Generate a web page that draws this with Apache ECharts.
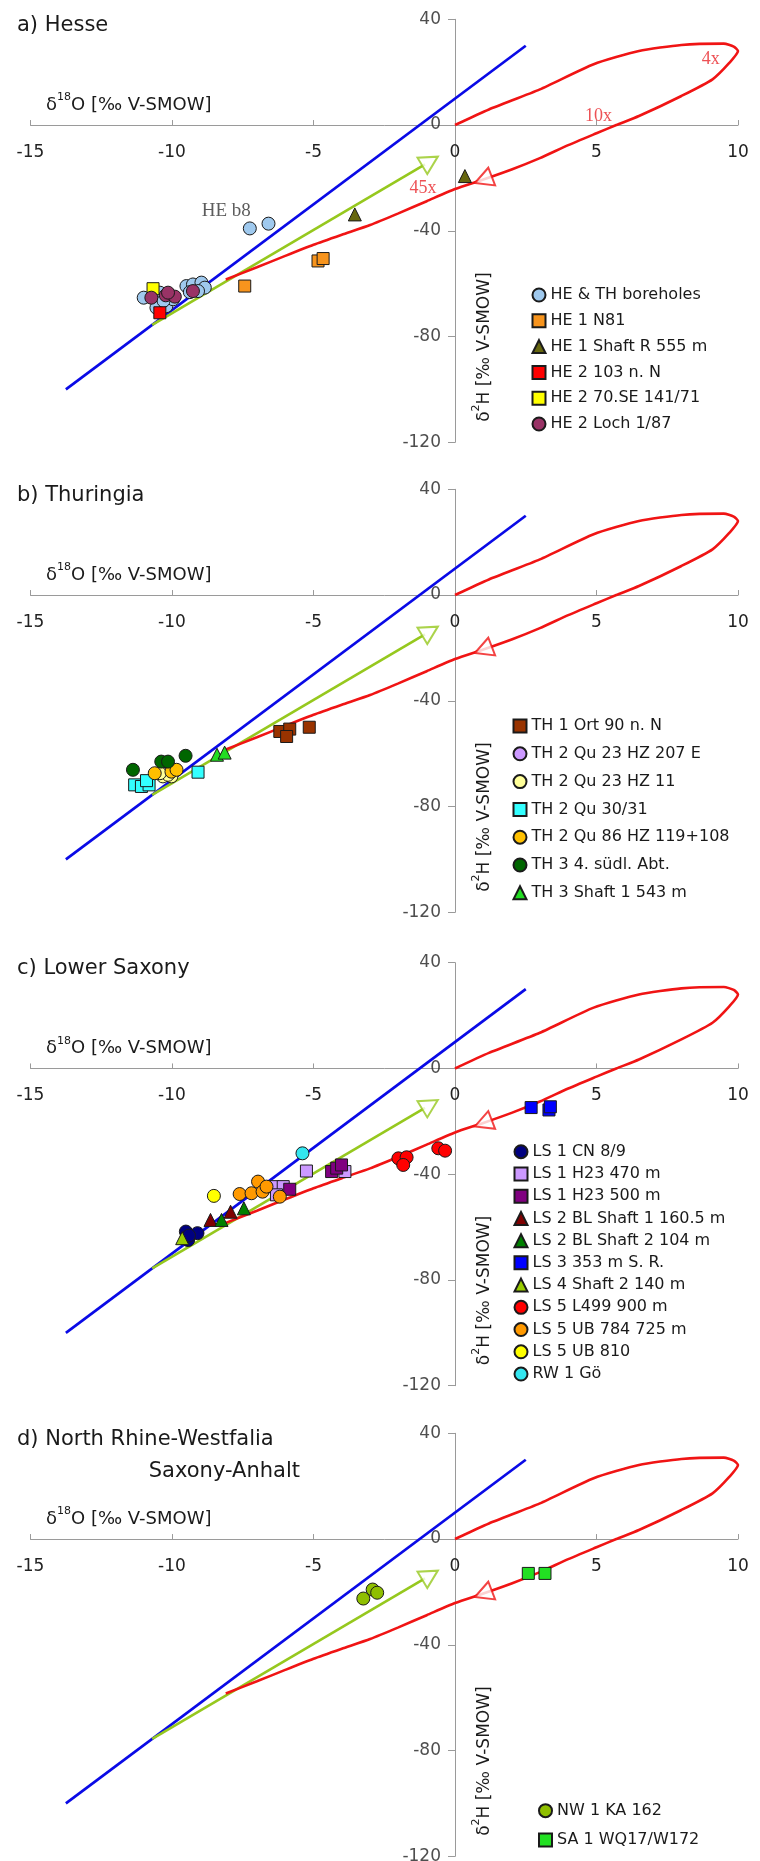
<!DOCTYPE html>
<html>
<head>
<meta charset="utf-8">
<script src="https://cdn.jsdelivr.net/npm/echarts@6/dist/echarts.min.js"></script>
<style>
html,body{margin:0;padding:0;background:#fff;}
#chart{width:760px;height:1861px;}
</style>
</head>
<body>
<div id="chart"></div>
<script>
// ---- axis scales ----
const xMin = -15, xMax = 10, xStep = 5;
const yMin = -120, yMax = 40, yStep = 40;
const yTickValues = [-120, -80, -40, 0, 40];

// ---- reference lines (same in every panel) ----
const gmwl = [[-13.75, -100], [2.5, 30]];
const mixingLine = [[-10.7, -75.6], [-1.06, -14.9]];
const evaporationCurve = [
  [0, 0], [1.2, 5.9], [3.0, 13.5], [4.9, 23.0], [6.5, 28.0], [8.0, 30.3],
  [9.5, 30.8], [9.85, 29.7], [10.0, 28.0], [9.7, 23.6], [9.1, 17.3], [8.0, 11.0],
  [6.5, 3.4], [5.7, 0], [5.0, -3.1], [4.0, -7.6], [3.0, -12.5], [2.0, -16.8],
  [1.0, -20.6], [0, -24.2], [-1, -28.8], [-2, -33.4], [-3, -37.8], [-4, -41.5],
  [-5, -45.3], [-6, -49.5], [-7, -53.8], [-8.1, -58.4]
];
const mixingArrow = [[-0.88, -13.7]];
const evaporationArrow = [[1.0, -20.7]];

// ---- panel a: Hesse ----
const heThBoreholes = [[-7.25, -39.1], [-6.59, -37.3], [-11.0, -65.3], [-10.55, -69.1], [-10.2, -68.5],
  [-9.96, -65.9], [-10.43, -63.4], [-10.3, -66.5], [-9.49, -60.9], [-9.26, -60.3], [-8.96, -59.6],
  [-8.84, -61.5], [-9.37, -63.2], [-9.08, -62.8]];
const heN81 = [[-7.43, -60.9], [-4.84, -51.4], [-4.66, -50.5]];
const heShaftR = [[-3.54, -33.8], [0.35, -19.3]];
const he103 = [[-10.43, -71.0]];
const he70SE = [[-10.67, -61.9]];
const heLoch = [[-10.73, -65.3], [-10.22, -64.4], [-9.9, -64.9], [-10.14, -63.4], [-9.26, -62.8]];

// ---- panel b: Thuringia ----
const th1Ort = [[-6.19, -51.6], [-5.84, -50.7], [-5.95, -53.5], [-5.15, -50.0]];
const th2Qu23HZ207 = [[-10.2, -67.6]];
const th2Qu23HZ11 = [[-10.32, -68.6], [-10.02, -68.6], [-10.14, -68.0], [-10.43, -67.4]];
const th2Qu3031 = [[-9.08, -67.0], [-11.32, -71.8], [-11.08, -72.4], [-10.81, -71.8], [-10.9, -70.2]];
const th2Qu86 = [[-10.61, -67.4], [-10.02, -66.8], [-9.84, -66.1]];
const th3Sued = [[-11.38, -66.1], [-10.38, -63.0], [-10.14, -63.0], [-9.52, -60.8]];
const th3Shaft = [[-8.41, -60.4], [-8.14, -59.6]];

// ---- panel c: Lower Saxony ----
const ls1CN = [[-9.51, -61.7], [-9.1, -62.3], [-9.43, -64.9], [-9.4, -63.2]];
const ls1H470 = [[-5.25, -38.8], [-6.43, -44.7], [-6.07, -44.7], [-6.31, -47.8], [-3.89, -39.0]];
const ls1H500 = [[-5.84, -45.7], [-4.36, -39.0], [-4.18, -37.7], [-4.01, -36.5]];
const ls2Shaft1 = [[-8.64, -57.3], [-7.93, -54.2]];
const ls2Shaft2 = [[-8.25, -57.3], [-7.46, -52.9]];
const ls3 = [[2.69, -14.8], [3.32, -15.7], [3.37, -14.5]];
const ls4 = [[-9.64, -64.2]];
const ls5L499 = [[-2.0, -34.0], [-1.71, -33.6], [-1.83, -36.5], [-0.59, -30.2], [-0.35, -31.1]];
const ls5UB784 = [[-6.96, -42.8], [-7.61, -47.5], [-7.19, -47.2], [-6.8, -46.6], [-6.19, -48.5], [-6.66, -44.7]];
const ls5UB810 = [[-8.52, -48.2]];
const rw1 = [[-5.39, -32.1]];

// ---- panel d: North Rhine-Westfalia / Saxony-Anhalt ----
const nw1 = [[-3.24, -22.5], [-2.91, -19.1], [-2.75, -20.3]];
const sa1 = [[2.59, -13.0], [3.18, -13.0]];

// ---- annotations in panel a ----
const curveLabels = [
  { text: '4x', at: [9.04, 24.8] },
  { text: '10x', at: [5.07, 3.2] },
  { text: '45x', at: [-1.13, -24.1] }
];
const sampleLabels = [{ text: 'HE b8', at: [-8.08, -32.5] }];

const FONT = "'DejaVu Sans', 'Liberation Sans', sans-serif";
const SERIF = "'Liberation Serif', 'DejaVu Serif', serif";

const panels = [
  {
    title: ['a) Hesse'], top: 19.3,
    legend: { left: 531.5, top: 282.1, pitch: 25.8 },
    groups: [
      { name: 'HE & TH boreholes', symbol: 'circle', color: '#9fc9ee', data: heThBoreholes },
      { name: 'HE 1 N81', symbol: 'rect', color: '#f7941d', data: heN81 },
      { name: 'HE 1 Shaft R 555 m', symbol: 'triangle', color: '#66660f', data: heShaftR },
      { name: 'HE 2 103 n. N', symbol: 'rect', color: '#ff0000', data: he103 },
      { name: 'HE 2 70.SE 141/71', symbol: 'rect', color: '#ffff00', data: he70SE },
      { name: 'HE 2 Loch 1/87', symbol: 'circle', color: '#993366', data: heLoch }
    ]
  },
  {
    title: ['b) Thuringia'], top: 489.3,
    legend: { left: 512.5, top: 712.1, pitch: 27.8 },
    groups: [
      { name: 'TH 1 Ort 90 n. N', symbol: 'rect', color: '#993300', data: th1Ort },
      { name: 'TH 2 Qu 23 HZ 207 E', symbol: 'circle', color: '#cc99ff', data: th2Qu23HZ207 },
      { name: 'TH 2 Qu 23 HZ 11', symbol: 'circle', color: '#ffff99', data: th2Qu23HZ11 },
      { name: 'TH 2 Qu 30/31', symbol: 'rect', color: '#33ffff', data: th2Qu3031 },
      { name: 'TH 2 Qu 86 HZ 119+108', symbol: 'circle', color: '#ffc000', data: th2Qu86 },
      { name: 'TH 3 4. südl. Abt.', symbol: 'circle', color: '#006600', data: th3Sued },
      { name: 'TH 3 Shaft 1 543 m', symbol: 'triangle', color: '#22dd22', data: th3Shaft }
    ]
  },
  {
    title: ['c) Lower Saxony'], top: 962.7,
    legend: { left: 513.5, top: 1140.6, pitch: 22.23 },
    groups: [
      { name: 'LS 1 CN 8/9', symbol: 'circle', color: '#000080', data: ls1CN },
      { name: 'LS 1 H23 470 m', symbol: 'rect', color: '#cc99ff', data: ls1H470 },
      { name: 'LS 1 H23 500 m', symbol: 'rect', color: '#800080', data: ls1H500 },
      { name: 'LS 2 BL Shaft 1 160.5 m', symbol: 'triangle', color: '#800000', data: ls2Shaft1 },
      { name: 'LS 2 BL Shaft 2 104 m', symbol: 'triangle', color: '#008000', data: ls2Shaft2 },
      { name: 'LS 3 353 m S. R.', symbol: 'rect', color: '#0000ff', data: ls3 },
      { name: 'LS 4 Shaft 2 140 m', symbol: 'triangle', color: '#99cc00', data: ls4 },
      { name: 'LS 5 L499 900 m', symbol: 'circle', color: '#ff0000', data: ls5L499 },
      { name: 'LS 5 UB 784 725 m', symbol: 'circle', color: '#ff9900', data: ls5UB784 },
      { name: 'LS 5 UB 810', symbol: 'circle', color: '#ffff00', data: ls5UB810 },
      { name: 'RW 1 Gö', symbol: 'circle', color: '#33e6f0', data: rw1 }
    ]
  },
  {
    title: ['d) North Rhine-Westfalia', 'Saxony-Anhalt'], top: 1433.3,
    legend: { left: 538, top: 1796, pitch: 29.3 },
    groups: [
      { name: 'NW 1 KA 162', symbol: 'circle', color: '#8fbf00', data: nw1 },
      { name: 'SA 1 WQ17/W172', symbol: 'rect', color: '#22e022', data: sa1 }
    ]
  }
];

const GRID_LEFT = 30.5, GRID_W = 707.5, GRID_H = 423;
const X_PX = GRID_W / (xMax - xMin);
const Y_PX = GRID_H / (yMax - yMin);

const grids = [], xAxes = [], yAxes = [], legends = [], series = [], graphics = [];

panels.forEach((p, i) => {
  grids.push({ left: GRID_LEFT, top: p.top, width: GRID_W, height: GRID_H, containLabel: false });
  // axes cross at the origin: shift each one from the grid edge onto the zero line
  xAxes.push({
    gridIndex: i, type: 'value', min: xMin, max: xMax, interval: xStep,
    position: 'bottom', offset: -(0 - yMin) * Y_PX,
    axisLine: { onZero: false, lineStyle: { color: '#9a9a9a', width: 1 } },
    axisTick: { show: true, inside: true, length: 5, lineStyle: { color: '#9a9a9a' } },
    axisLabel: { margin: 19, fontSize: 17, color: '#222', fontFamily: FONT },
    splitLine: { show: false }
  });
  yAxes.push({
    gridIndex: i, type: 'value', min: yMin, max: yMax, interval: yStep,
    position: 'left', offset: -(0 - xMin) * X_PX,
    axisLine: { onZero: false, lineStyle: { color: '#9a9a9a', width: 1 } },
    axisTick: { show: true, inside: false, length: 7, lineStyle: { color: '#9a9a9a' } },
    axisLabel: { show: false },
    splitLine: { show: false }
  });

  const ax = { xAxisIndex: i, yAxisIndex: i };

  // y tick labels, placed left of the vertical axis at x = 0
  series.push({ type: 'scatter', ...ax, symbolSize: 0, silent: true, z: 1,
    data: yTickValues.map(v => [0, v]),
    label: { show: true, position: 'left', distance: 14, formatter: d => String(d.value[1]),
      fontSize: 17, color: '#222', fontFamily: FONT } });

  series.push({ type: 'line', ...ax, data: gmwl, symbol: 'none', silent: true,
    lineStyle: { color: '#0a0ae6', width: 2.7 }, z: 2 });
  series.push({ type: 'line', ...ax, data: mixingLine, symbol: 'none', silent: true,
    lineStyle: { color: '#96c81e', width: 2.6 }, z: 2 });
  series.push({ type: 'line', ...ax, data: evaporationCurve, symbol: 'none', smooth: 0.2, silent: true,
    lineStyle: { color: '#f01414', width: 2.6 }, z: 2 });
  series.push({ type: 'scatter', ...ax, data: mixingArrow, symbol: 'triangle', symbolSize: [19, 18],
    symbolRotate: -59, silent: true, z: 3,
    itemStyle: { color: '#fff', borderColor: '#96c81e', borderWidth: 2 } });
  series.push({ type: 'scatter', ...ax, data: evaporationArrow, symbol: 'triangle', symbolSize: [19, 18],
    symbolRotate: 111, silent: true, z: 3,
    itemStyle: { color: '#fff', borderColor: '#f01414', borderWidth: 2 } });

  p.groups.forEach(g => {
    series.push({
      type: 'scatter', name: g.name, ...ax, data: g.data, symbol: g.symbol,
      symbolSize: g.symbol === 'rect' ? 12 : 13,
      itemStyle: { color: g.color, borderColor: '#1a1a1a', borderWidth: 1, opacity: 1 },
      z: 4
    });
  });

  if (i === 0) {
    series.push({ type: 'scatter', ...ax, symbolSize: 0, silent: true, z: 5,
      data: curveLabels.map(c => ({ value: c.at, label: { formatter: c.text } })),
      label: { show: true, position: 'inside', fontFamily: SERIF, fontSize: 18, color: '#e8262a' } });
    series.push({ type: 'scatter', ...ax, symbolSize: 0, silent: true, z: 5,
      data: sampleLabels.map(c => ({ value: c.at, label: { formatter: c.text } })),
      label: { show: true, position: 'inside', fontFamily: SERIF, fontSize: 19, color: '#333' } });
  }

  legends.push({
    data: p.groups.map(g => g.name), orient: 'vertical', left: p.legend.left, top: p.legend.top,
    padding: 0, itemGap: 0, itemWidth: 13, itemHeight: 13, selectedMode: false,
    textStyle: { fontSize: 16, lineHeight: p.legend.pitch, color: '#1a1a1a', fontFamily: FONT }
  });

  // panel title
  graphics.push({ type: 'text', x: 17, y: p.top + 6,
    style: { text: p.title[0], font: '21px ' + FONT, fill: '#1a1a1a', verticalAlign: 'middle' } });
  if (p.title[1]) {
    graphics.push({ type: 'text', x: 300, y: p.top + 38.5,
      style: { text: p.title[1], font: '21px ' + FONT, fill: '#1a1a1a', align: 'right', verticalAlign: 'middle' } });
  }

  const zeroY = p.top + yMax * Y_PX;
  // x-axis name
  graphics.push({ type: 'text', x: 46, y: zeroY - 22,
    style: {
      text: '{n|δ}{s|18}{n|O [‰ V-SMOW]}', verticalAlign: 'middle',
      rich: {
        n: { font: '18px ' + FONT, fill: '#1a1a1a', lineHeight: 22, verticalAlign: 'bottom' },
        s: { font: '11px ' + FONT, fill: '#1a1a1a', lineHeight: 22, verticalAlign: 'top' }
      }
    } });
  // y-axis name, reading upwards
  graphics.push({ type: 'text', x: 482, y: zeroY + 84 * Y_PX, rotation: Math.PI / 2,
    style: {
      text: '{n|δ}{s|2}{n|H [‰ V-SMOW]}', align: 'center', verticalAlign: 'middle',
      rich: {
        n: { font: '17px ' + FONT, fill: '#1a1a1a', lineHeight: 22, verticalAlign: 'bottom' },
        s: { font: '11px ' + FONT, fill: '#1a1a1a', lineHeight: 22, verticalAlign: 'top' }
      }
    } });
});

const chart = echarts.init(document.getElementById('chart'), null, { renderer: 'canvas' });
chart.setOption({
  animation: false,
  backgroundColor: '#fff',
  grid: grids, xAxis: xAxes, yAxis: yAxes, legend: legends,
  series: series, graphic: graphics
});
</script>
</body>
</html>
